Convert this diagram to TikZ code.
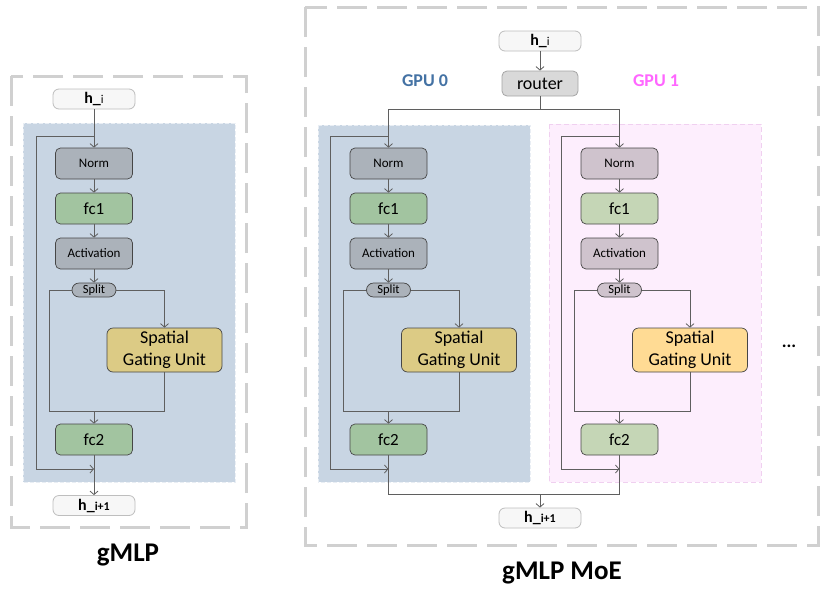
\documentclass[tikz,border=0pt]{standalone}
\usepackage{fontspec}
\setmainfont{Carlito}
\usetikzlibrary{arrows.meta}
\definecolor{bluebg}{RGB}{200,213,227}
\definecolor{pinkbg}{RGB}{253,238,253}
\definecolor{pinkedge}{RGB}{240,208,240}
\definecolor{grayA}{RGB}{171,178,186}
\definecolor{grayB}{RGB}{207,195,205}
\definecolor{greenA}{RGB}{162,196,160}
\definecolor{greenB}{RGB}{197,214,182}
\definecolor{sguA}{RGB}{220,203,133}
\definecolor{sguB}{RGB}{255,219,148}
\definecolor{hfill}{RGB}{247,247,247}
\definecolor{hedge}{RGB}{190,190,190}
\definecolor{routerfill}{RGB}{217,217,217}
\definecolor{routeredge}{RGB}{165,165,165}
\definecolor{outerdash}{RGB}{208,208,208}
\definecolor{linecol}{RGB}{95,95,95}
\definecolor{boxedge}{RGB}{70,70,70}
\definecolor{gpuzero}{RGB}{68,114,164}
\definecolor{gpuone}{RGB}{255,102,255}
\tikzset{
  arr/.tip={Straight Barb[length=3.5pt,width=8pt,line width=0.8pt]},
  ln/.style={draw=linecol,line width=0.8pt},
  outerbox/.style={draw=outerdash,line width=3pt,dash pattern=on 30pt off 10pt},
  nbox/.style={draw=boxedge,line width=0.7pt,rounded corners=5pt,minimum width=77pt,minimum height=31pt,inner sep=0pt,font=\fontsize{13}{15}\selectfont},
  fcbox/.style={nbox,font=\fontsize{17}{20}\selectfont},
  splitbox/.style={draw=boxedge,line width=0.7pt,rounded corners=7pt,minimum width=44pt,minimum height=14pt,inner sep=0pt,font=\fontsize{12.5}{14}\selectfont},
  sgubox/.style={draw=boxedge,line width=0.7pt,rounded corners=6pt,minimum width=115pt,minimum height=44pt,inner sep=0pt,align=center,font=\fontsize{18}{22}\selectfont},
  hbox/.style={draw=hedge,fill=hfill,line width=0.8pt,rounded corners=6pt,minimum width=82pt,minimum height=20pt,inner sep=0pt},
  titletext/.style={font=\fontsize{27}{30}\selectfont\bfseries},
  gputext/.style={font=\fontsize{18}{20}\selectfont\bfseries}
}
\newcommand\hin{{\fontsize{16}{18}\selectfont\bfseries h\_}{\fontsize{12}{14}\selectfont i}}
\newcommand\hout{{\fontsize{16}{18}\selectfont\bfseries h\_}{\fontsize{12}{14}\selectfont\bfseries i+1}}
% #1 xshift, #2 prefix, #3 gray, #4 green, #5 sgu colour
\newcommand\gmlpcol[5]{%
\begin{scope}[xshift=#1pt]
  \node[nbox,fill=#3] (#2norm) at (94,163.5) {Norm};
  \node[fcbox,fill=#4] (#2fca) at (94,208.5) {fc1};
  \node[nbox,fill=#3] (#2act) at (94,253.5) {Activation};
  \node[splitbox,fill=#3] (#2split) at (94,290) {Split};
  \node[sgubox,fill=#5] (#2sgu) at (164.5,350) {Spatial\\Gating Unit};
  \node[fcbox,fill=#4] (#2fcb) at (94,439.5) {fc2};
  \coordinate (#2top) at (94,136);
  \coordinate (#2res) at (94,469);
  \coordinate (#2join) at (94,411);
  \draw[ln,-arr] (#2norm) -- (#2fca);
  \draw[ln,-arr] (#2fca) -- (#2act);
  \draw[ln,-arr] (#2act) -- (#2split);
  \draw[ln] (#2split.west) -- (49,290) -- (49,411) -- (164.5,411) -- (#2sgu.south);
  \draw[ln,-arr] (#2split.east) -- (164.5,290) -- (#2sgu.north);
  \draw[ln,-arr] (#2join) -- (#2fcb);
  \draw[ln,-arr] (#2top) -- (36,136) -- (36,469) -- (#2res);
\end{scope}}
\begin{document}
\begin{tikzpicture}[x=1pt,y=-1pt]
\useasboundingbox[fill=white] (0,0) rectangle (831,590);
% ---------- left panel ----------
\draw[outerbox] (11,76) rectangle (246,527);
\fill[bluebg] (23,123) rectangle (235,482);
\draw[white!60!bluebg,line width=0.6pt,dash pattern=on 4pt off 2pt] (23,123) rectangle (235,482);
\gmlpcol{0}{a}{grayA}{greenA}{sguA}
\node[hbox] (ahi) at (94,99) {\hin};
\node[hbox] (aho) at (94,505.5) {\hout};
\draw[ln,-arr] (ahi) -- (anorm);
\draw[ln,-arr] (afcb) -- (aho);
\node[titletext] (atitle) at (128,555) {gMLP};
% ---------- right panel ----------
\draw[outerbox] (305,7) rectangle (818,545);
\fill[bluebg] (318,125) rectangle (530,482);
\draw[white!60!bluebg,line width=0.6pt,dash pattern=on 4pt off 2pt] (318,125) rectangle (530,482);
\fill[pinkbg] (549,124) rectangle (761,482);
\draw[pinkedge,line width=0.8pt,dash pattern=on 5pt off 3pt] (549,124) rectangle (761,482);
\gmlpcol{294.5}{b}{grayA}{greenA}{sguA}
\gmlpcol{525.5}{c}{grayB}{greenB}{sguB}
\node[hbox] (bhi) at (540,41) {\hin};
\node[draw=routeredge,fill=routerfill,line width=0.8pt,rounded corners=5pt,minimum width=76pt,minimum height=25pt,inner sep=0pt,font=\fontsize{18}{20}\selectfont] (router) at (540,83.5) {router};
\node[hbox] (bho) at (540,518) {\hout};
\node[gputext,text=gpuzero] (gpua) at (425,81) {GPU 0};
\node[gputext,text=gpuone] (gpub) at (656,81) {GPU 1};
\node[font=\fontsize{18}{20}\selectfont\bfseries] (dots) at (789,346) {...};
\coordinate (rsplit) at (540,109);
\coordinate (rl) at (388.5,109);
\coordinate (rr) at (619.5,109);
\coordinate (ol) at (388.5,494);
\coordinate (or) at (619.5,494);
\coordinate (om) at (540,494);
\draw[ln,-arr] (bhi) -- (router);
\draw[ln] (router) -- (rsplit);
\draw[ln,-arr] (rl) -- (rr) -- (cnorm);
\draw[ln,-arr] (rr) -- (rl) -- (bnorm);
\draw[ln] (bfcb) -- (ol) -- (or) -- (cfcb);
\draw[ln,-arr] (om) -- (bho);
\node[titletext] (btitle) at (562,573) {gMLP MoE};
\end{tikzpicture}
\end{document}
